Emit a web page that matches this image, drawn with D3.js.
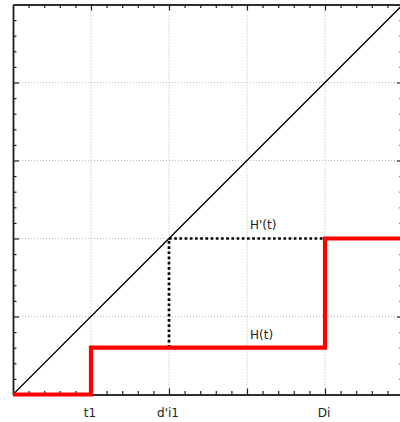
<!DOCTYPE html>
<html>
<head>
<meta charset="utf-8">
<script src="https://cdn.jsdelivr.net/npm/d3@7/dist/d3.min.js"></script>
<style>
  html, body { margin: 0; padding: 0; background: #fff; }
  svg { display: block; }
  text { font-family: "DejaVu Sans", sans-serif; }
</style>
</head>
<body>
<script>
// Step function H(t): times where a new level starts, and the level held from there
const stepTimes = [0, 1, 4, 5];
const stepLevels = [0, 0.6, 2, 2];

// Reference line y = t
const diagonalT = [0, 5];

// Projection of H'(t): from H at d'i1 up to the diagonal, then across to Di
const projT = [2, 2, 4];
const projY = [0.6, 2, 2];

// Bottom axis labels
const labelTicks = [1, 2, 4];
const labelNames = ["t1", "d'i1", "Di"];

// Curve labels
const curveNames = ["H'(t)", "H(t)"];
const curveLabelT = [3, 3];
const curveLabelY = [2, 0.6];

const W = 400, H = 422;
const margin = { left: 13, top: 4.5 };
const side = 390;

const x = d3.scaleLinear().domain([0, 5]).range([margin.left, margin.left + side]);
const y = d3.scaleLinear().domain([0, 5]).range([margin.top + side, margin.top]);

const svg = d3.select("body").append("svg").attr("width", W).attr("height", H);

const majors = [1, 2, 3, 4];
const minors = d3.range(1, 25).map(i => i / 5).filter(v => Math.abs(v - Math.round(v)) > 1e-6);

// Grid
const grid = svg.append("g");
grid.selectAll("line.gx").data(majors).join("line")
  .attr("x1", d => x(d)).attr("x2", d => x(d))
  .attr("y1", y(0)).attr("y2", y(5))
  .attr("stroke", "#b8b8b8").attr("stroke-width", 1).attr("stroke-dasharray", "1,2");
grid.selectAll("line.gy").data(majors).join("line")
  .attr("y1", d => y(d)).attr("y2", d => y(d))
  .attr("x1", x(0)).attr("x2", x(5))
  .attr("stroke", "#b8b8b8").attr("stroke-width", 1).attr("stroke-dasharray", "1,2");

// Axes with inward ticks on all four sides
function styleAxis(g) {
  g.selectAll("path.domain").attr("stroke", "#222").attr("stroke-width", 1.5);
  g.selectAll(".tick line").attr("stroke", "#222").attr("stroke-width", 1.2);
  g.selectAll(".tick text").remove();
}
const sides = [
  { gen: d3.axisBottom(x), tr: `translate(0,${y(0)})` },
  { gen: d3.axisTop(x), tr: `translate(0,${y(5)})` },
  { gen: d3.axisLeft(y), tr: `translate(${x(0)},0)` },
  { gen: d3.axisRight(y), tr: `translate(${x(5)},0)` }
];
sides.forEach(s => {
  svg.append("g").attr("transform", s.tr)
    .call(s.gen.tickValues(minors).tickSize(-3.5).tickSizeOuter(0).tickFormat(""))
    .call(styleAxis);
  svg.append("g").attr("transform", s.tr)
    .call(s.gen.tickValues(majors).tickSize(-6).tickSizeOuter(0).tickFormat(""))
    .call(styleAxis);
});

// Bottom labels
svg.append("g").selectAll("text").data(labelTicks).join("text")
  .attr("x", d => x(d) - 1)
  .attr("y", 417)
  .attr("text-anchor", "middle")
  .attr("font-size", 12)
  .attr("fill", "#222")
  .text((d, i) => labelNames[i]);

// Diagonal
svg.append("path")
  .datum(diagonalT)
  .attr("d", d3.line().x(d => x(d)).y(d => y(d)))
  .attr("fill", "none").attr("stroke", "#000").attr("stroke-width", 1.3);

// Dotted projection
svg.append("path")
  .datum(projT.map((t, i) => [t, projY[i]]))
  .attr("d", d3.line().x(d => x(d[0])).y(d => y(d[1])))
  .attr("fill", "none").attr("stroke", "#000").attr("stroke-width", 2.7)
  .attr("stroke-dasharray", "2.7,2.5");

// Step function
svg.append("path")
  .datum(stepTimes.map((t, i) => [t, stepLevels[i]]))
  .attr("d", d3.line().x(d => x(d[0])).y(d => y(d[1])).curve(d3.curveStepAfter))
  .attr("fill", "none").attr("stroke", "#ff0000").attr("stroke-width", 4.2)
  .attr("stroke-linejoin", "miter");

// Curve labels
svg.append("g").selectAll("text").data(curveNames).join("text")
  .attr("x", (d, i) => x(curveLabelT[i]) + 3)
  .attr("y", (d, i) => y(curveLabelY[i]) - (i === 0 ? 10 : 8.5))
  .attr("font-size", 12)
  .attr("fill", "#222")
  .text(d => d);
</script>
</body>
</html>
